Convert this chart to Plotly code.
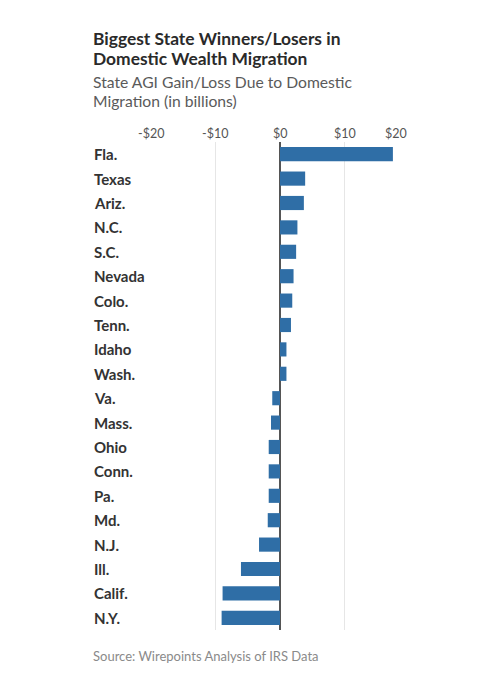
import plotly.graph_objects as go

# state AGI gain/loss due to domestic migration, billions of dollars
states = ['Fla.', 'Texas', 'Ariz.', 'N.C.', 'S.C.', 'Nevada', 'Colo.', 'Tenn.', 'Idaho', 'Wash.',
          'Va.', 'Mass.', 'Ohio', 'Conn.', 'Pa.', 'Md.', 'N.J.', 'Ill.', 'Calif.', 'N.Y.']
agi_change = [17.5, 3.9, 3.7, 2.7, 2.5, 2.1, 1.9, 1.7, 1.0, 1.0,
              -1.2, -1.4, -1.75, -1.75, -1.75, -1.9, -3.25, -6.05, -8.9, -9.05]
tick_vals = [-20, -10, 0, 10, 20]
tick_text = ['-$20', '-$10', '$0', '$10', '$20']

FONT = 'Lato'
OFF = 8  # page body margin
W, H = 504 - 2 * OFF, 680 - 2 * OFF
L, R, T, B = 150 - OFF, 94 - OFF, 142 - OFF, 50 - OFF
plot_h = H - T - B
plot_w = W - L - R


def py(ref_y):
    # pixel row in the page -> paper y
    return (H - B - (ref_y - OFF)) / plot_h


def px(ref_x):
    return (ref_x - OFF - L) / plot_w


fig = go.Figure()
fig.add_trace(go.Bar(
    x=agi_change, y=states, orientation='h',
    marker=dict(color='#2f6ea6', line=dict(width=0)),
    hoverinfo='x+y',
))

annotations = []
# state labels, left aligned
for s in states:
    annotations.append(dict(x=px(92), xref='paper', y=s, yref='y', text=s, showarrow=False,
                            xanchor='left', yanchor='middle',
                            font=dict(family=FONT, size=15, color='#333333', weight='bold')))
# top axis labels
for v, t in zip(tick_vals, tick_text):
    annotations.append(dict(x=v, xref='x', y=py(133), yref='paper', text=t, showarrow=False,
                            xanchor='right' if v == tick_vals[-1] else 'center', yanchor='middle',
                            font=dict(family=FONT, size=12.5, color='#555555')))

text_x = px(91)
annotations += [
    dict(x=text_x, y=py(38), text='Biggest State Winners/Losers in',
         font=dict(family=FONT, size=17.4, color='#2a2a2a', weight='bold')),
    dict(x=text_x, y=py(59), text='Domestic Wealth Migration',
         font=dict(family=FONT, size=17.4, color='#2a2a2a', weight='bold')),
    dict(x=text_x, y=py(82), text='State AGI Gain/Loss Due to Domestic',
         font=dict(family=FONT, size=15.7, color='#5a5a5a')),
    dict(x=text_x, y=py(101), text='Migration (in billions)',
         font=dict(family=FONT, size=15.7, color='#5a5a5a')),
    dict(x=text_x, y=py(656), text='Source: Wirepoints Analysis of IRS Data',
         font=dict(family=FONT, size=13, color='#8a8a8a')),
]
for a in annotations[-5:]:
    a.update(xref='paper', yref='paper', xanchor='left', yanchor='middle', showarrow=False)

fig.update_layout(
    width=W, height=H,
    margin=dict(l=L, r=R, t=T, b=B),
    paper_bgcolor='white', plot_bgcolor='white',
    bargap=0.42,
    showlegend=False,
    annotations=annotations,
    xaxis=dict(range=[-20.15, 20.15], tickvals=tick_vals, showticklabels=False,
               showgrid=True, gridcolor='#e6e6e6', gridwidth=1,
               zeroline=True, zerolinecolor='#555555', zerolinewidth=1.5,
               showline=False, fixedrange=True),
    yaxis=dict(categoryorder='array', categoryarray=states, autorange='reversed',
               showticklabels=False, showgrid=False, zeroline=False, showline=False,
               fixedrange=True),
)

fig.write_html('out.html')
